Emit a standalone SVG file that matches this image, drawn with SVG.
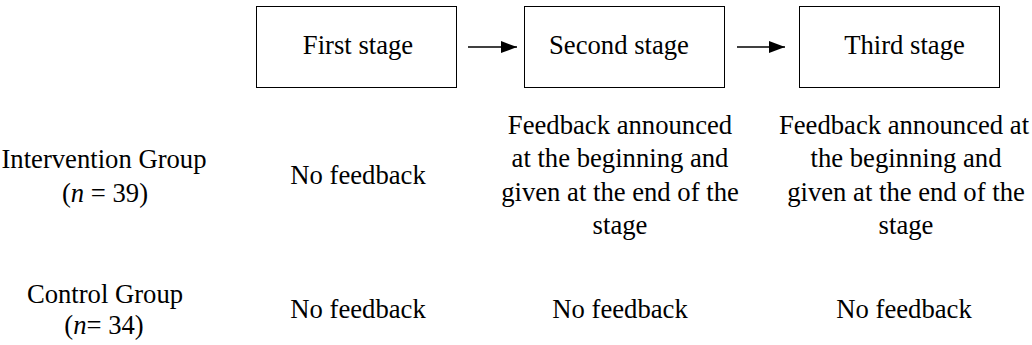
<svg xmlns="http://www.w3.org/2000/svg" width="1032" height="345" viewBox="0 0 1032 345">
  <style>
    text { font-family: "Liberation Serif", "Tinos", "Times New Roman", "DejaVu Serif", serif; font-size: 26.67px; fill: #000; text-anchor: middle; }
    .box { fill: #fff; stroke: #000; stroke-width: 1; }
    .conn { stroke: #000; stroke-width: 1.3; fill: none; }
  </style>
  <defs>
    <marker id="arrowhead" viewBox="0 0 16 12" refX="16" refY="6" markerWidth="16" markerHeight="12" markerUnits="userSpaceOnUse" orient="auto">
      <path d="M0,0 L16,6 L0,12 Z" fill="#000"/>
    </marker>
  </defs>
  <rect width="1032" height="345" fill="#fff"/>

  <!-- stage boxes -->
  <g id="stage1">
    <rect class="box" x="256.5" y="6.5" width="200" height="81"/>
    <text x="358" y="54">First stage</text>
  </g>
  <g id="stage2">
    <rect class="box" x="524.5" y="6.5" width="200" height="81"/>
    <text x="619" y="54">Second stage</text>
  </g>
  <g id="stage3">
    <rect class="box" x="799.5" y="6.5" width="200" height="81"/>
    <text x="904.5" y="54">Third stage</text>
  </g>

  <!-- connectors between stages -->
  <g id="connectors">
    <line class="conn" x1="468" y1="47" x2="517" y2="47" marker-end="url(#arrowhead)"/>
    <line class="conn" x1="737" y1="47" x2="785" y2="47" marker-end="url(#arrowhead)"/>
  </g>

  <!-- group labels -->
  <g id="intervention-label">
    <text x="104" y="168">Intervention Group</text>
    <text x="105" y="202">(<tspan font-style="italic">n</tspan> = 39)</text>
  </g>
  <g id="control-label">
    <text x="105" y="303">Control Group</text>
    <text x="104" y="334">(<tspan font-style="italic">n</tspan>= 34)</text>
  </g>

  <!-- intervention row -->
  <g id="intervention-stage1">
    <text x="358" y="184">No feedback</text>
  </g>
  <g id="intervention-stage2">
    <text x="620" y="134">Feedback announced</text>
    <text x="620" y="167">at the beginning and</text>
    <text x="620" y="201">given at the end of the</text>
    <text x="620" y="234">stage</text>
  </g>
  <g id="intervention-stage3">
    <text x="904" y="134">Feedback announced at</text>
    <text x="906" y="167">the beginning and</text>
    <text x="906" y="201">given at the end of the</text>
    <text x="906" y="234">stage</text>
  </g>

  <!-- control row -->
  <g id="control-stage1">
    <text x="358" y="318">No feedback</text>
  </g>
  <g id="control-stage2">
    <text x="620" y="318">No feedback</text>
  </g>
  <g id="control-stage3">
    <text x="904" y="318">No feedback</text>
  </g>
</svg>
